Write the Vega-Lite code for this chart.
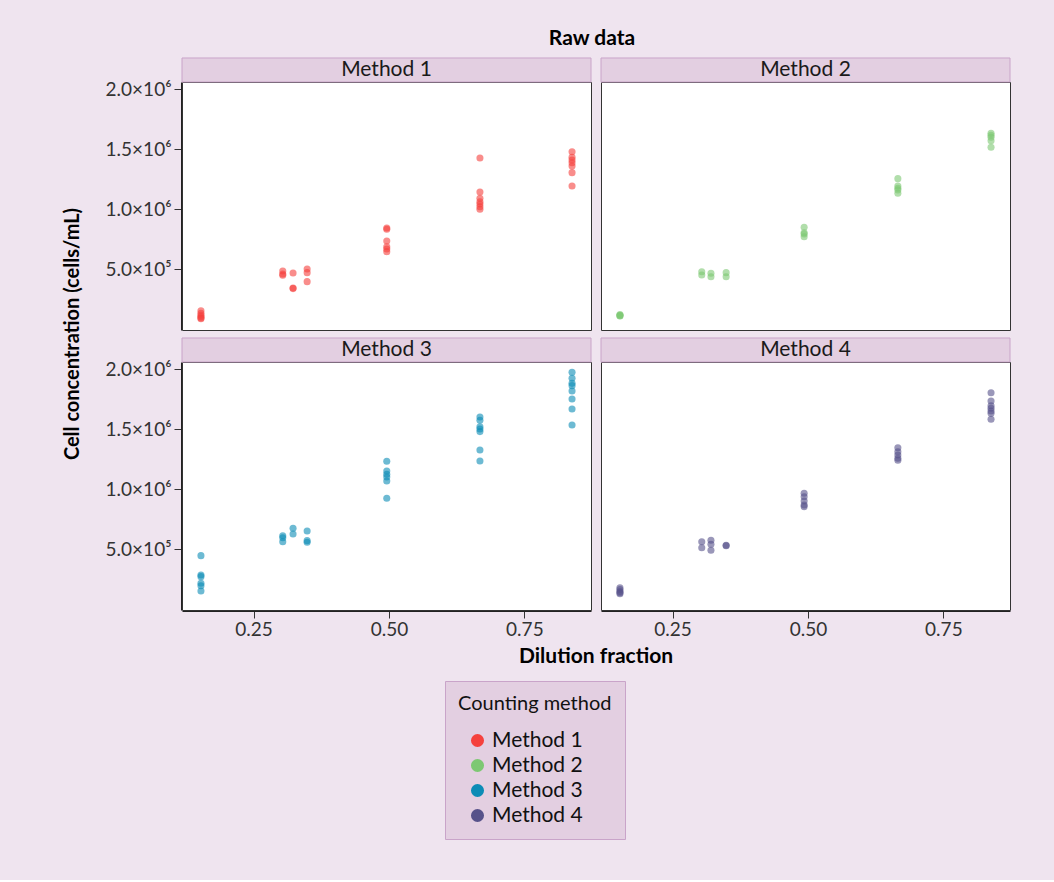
{
  "$schema": "https://vega.github.io/schema/vega-lite/v6.json",
  "background": "#EFE4EF",
  "padding": {"left": 62, "top": 27, "right": 44, "bottom": 40},
  "title": {"text": "Raw data", "font": "Lato", "fontSize": 21, "fontWeight": "bold", "color": "#000", "anchor": "middle", "offset": 8, "dx": 55},
  "data": {"values": [
    {"method": "Method 1", "dilution": 0.153, "conc": 156000},
    {"method": "Method 1", "dilution": 0.153, "conc": 134000},
    {"method": "Method 1", "dilution": 0.153, "conc": 118000},
    {"method": "Method 1", "dilution": 0.153, "conc": 106000},
    {"method": "Method 1", "dilution": 0.153, "conc": 95000},
    {"method": "Method 1", "dilution": 0.153, "conc": 90000},
    {"method": "Method 1", "dilution": 0.304, "conc": 487000},
    {"method": "Method 1", "dilution": 0.304, "conc": 462000},
    {"method": "Method 1", "dilution": 0.304, "conc": 451000},
    {"method": "Method 1", "dilution": 0.323, "conc": 470000},
    {"method": "Method 1", "dilution": 0.323, "conc": 345000},
    {"method": "Method 1", "dilution": 0.323, "conc": 340000},
    {"method": "Method 1", "dilution": 0.349, "conc": 504000},
    {"method": "Method 1", "dilution": 0.349, "conc": 473000},
    {"method": "Method 1", "dilution": 0.349, "conc": 398000},
    {"method": "Method 1", "dilution": 0.496, "conc": 845000},
    {"method": "Method 1", "dilution": 0.496, "conc": 835000},
    {"method": "Method 1", "dilution": 0.496, "conc": 737000},
    {"method": "Method 1", "dilution": 0.496, "conc": 689000},
    {"method": "Method 1", "dilution": 0.496, "conc": 670000},
    {"method": "Method 1", "dilution": 0.496, "conc": 648000},
    {"method": "Method 1", "dilution": 0.668, "conc": 1428000},
    {"method": "Method 1", "dilution": 0.668, "conc": 1145000},
    {"method": "Method 1", "dilution": 0.668, "conc": 1092000},
    {"method": "Method 1", "dilution": 0.668, "conc": 1064000},
    {"method": "Method 1", "dilution": 0.668, "conc": 1045000},
    {"method": "Method 1", "dilution": 0.668, "conc": 1022000},
    {"method": "Method 1", "dilution": 0.668, "conc": 1001000},
    {"method": "Method 1", "dilution": 0.838, "conc": 1480000},
    {"method": "Method 1", "dilution": 0.838, "conc": 1434000},
    {"method": "Method 1", "dilution": 0.838, "conc": 1411000},
    {"method": "Method 1", "dilution": 0.838, "conc": 1389000},
    {"method": "Method 1", "dilution": 0.838, "conc": 1361000},
    {"method": "Method 1", "dilution": 0.838, "conc": 1306000},
    {"method": "Method 1", "dilution": 0.838, "conc": 1195000},
    {"method": "Method 2", "dilution": 0.153, "conc": 125000},
    {"method": "Method 2", "dilution": 0.153, "conc": 118000},
    {"method": "Method 2", "dilution": 0.153, "conc": 112000},
    {"method": "Method 2", "dilution": 0.153, "conc": 115000},
    {"method": "Method 2", "dilution": 0.304, "conc": 481000},
    {"method": "Method 2", "dilution": 0.304, "conc": 453000},
    {"method": "Method 2", "dilution": 0.321, "conc": 468000},
    {"method": "Method 2", "dilution": 0.321, "conc": 439000},
    {"method": "Method 2", "dilution": 0.349, "conc": 473000},
    {"method": "Method 2", "dilution": 0.349, "conc": 439000},
    {"method": "Method 2", "dilution": 0.493, "conc": 851000},
    {"method": "Method 2", "dilution": 0.493, "conc": 806000},
    {"method": "Method 2", "dilution": 0.493, "conc": 795000},
    {"method": "Method 2", "dilution": 0.493, "conc": 772000},
    {"method": "Method 2", "dilution": 0.666, "conc": 1256000},
    {"method": "Method 2", "dilution": 0.666, "conc": 1195000},
    {"method": "Method 2", "dilution": 0.666, "conc": 1176000},
    {"method": "Method 2", "dilution": 0.666, "conc": 1161000},
    {"method": "Method 2", "dilution": 0.666, "conc": 1134000},
    {"method": "Method 2", "dilution": 0.838, "conc": 1633000},
    {"method": "Method 2", "dilution": 0.838, "conc": 1617000},
    {"method": "Method 2", "dilution": 0.838, "conc": 1600000},
    {"method": "Method 2", "dilution": 0.838, "conc": 1572000},
    {"method": "Method 2", "dilution": 0.838, "conc": 1517000},
    {"method": "Method 3", "dilution": 0.153, "conc": 448000},
    {"method": "Method 3", "dilution": 0.153, "conc": 287000},
    {"method": "Method 3", "dilution": 0.153, "conc": 273000},
    {"method": "Method 3", "dilution": 0.153, "conc": 218000},
    {"method": "Method 3", "dilution": 0.153, "conc": 198000},
    {"method": "Method 3", "dilution": 0.153, "conc": 154000},
    {"method": "Method 3", "dilution": 0.304, "conc": 614000},
    {"method": "Method 3", "dilution": 0.304, "conc": 597000},
    {"method": "Method 3", "dilution": 0.304, "conc": 564000},
    {"method": "Method 3", "dilution": 0.323, "conc": 676000},
    {"method": "Method 3", "dilution": 0.323, "conc": 628000},
    {"method": "Method 3", "dilution": 0.349, "conc": 653000},
    {"method": "Method 3", "dilution": 0.349, "conc": 573000},
    {"method": "Method 3", "dilution": 0.349, "conc": 559000},
    {"method": "Method 3", "dilution": 0.496, "conc": 1234000},
    {"method": "Method 3", "dilution": 0.496, "conc": 1153000},
    {"method": "Method 3", "dilution": 0.496, "conc": 1126000},
    {"method": "Method 3", "dilution": 0.496, "conc": 1103000},
    {"method": "Method 3", "dilution": 0.496, "conc": 1070000},
    {"method": "Method 3", "dilution": 0.496, "conc": 926000},
    {"method": "Method 3", "dilution": 0.668, "conc": 1603000},
    {"method": "Method 3", "dilution": 0.668, "conc": 1575000},
    {"method": "Method 3", "dilution": 0.668, "conc": 1522000},
    {"method": "Method 3", "dilution": 0.668, "conc": 1503000},
    {"method": "Method 3", "dilution": 0.668, "conc": 1481000},
    {"method": "Method 3", "dilution": 0.668, "conc": 1328000},
    {"method": "Method 3", "dilution": 0.668, "conc": 1236000},
    {"method": "Method 3", "dilution": 0.838, "conc": 1975000},
    {"method": "Method 3", "dilution": 0.838, "conc": 1925000},
    {"method": "Method 3", "dilution": 0.838, "conc": 1883000},
    {"method": "Method 3", "dilution": 0.838, "conc": 1864000},
    {"method": "Method 3", "dilution": 0.838, "conc": 1819000},
    {"method": "Method 3", "dilution": 0.838, "conc": 1753000},
    {"method": "Method 3", "dilution": 0.838, "conc": 1669000},
    {"method": "Method 3", "dilution": 0.838, "conc": 1536000},
    {"method": "Method 4", "dilution": 0.153, "conc": 180000},
    {"method": "Method 4", "dilution": 0.153, "conc": 165000},
    {"method": "Method 4", "dilution": 0.153, "conc": 150000},
    {"method": "Method 4", "dilution": 0.153, "conc": 140000},
    {"method": "Method 4", "dilution": 0.153, "conc": 130000},
    {"method": "Method 4", "dilution": 0.304, "conc": 564000},
    {"method": "Method 4", "dilution": 0.304, "conc": 514000},
    {"method": "Method 4", "dilution": 0.321, "conc": 576000},
    {"method": "Method 4", "dilution": 0.321, "conc": 543000},
    {"method": "Method 4", "dilution": 0.321, "conc": 493000},
    {"method": "Method 4", "dilution": 0.349, "conc": 534000},
    {"method": "Method 4", "dilution": 0.349, "conc": 530000},
    {"method": "Method 4", "dilution": 0.493, "conc": 967000},
    {"method": "Method 4", "dilution": 0.493, "conc": 939000},
    {"method": "Method 4", "dilution": 0.493, "conc": 903000},
    {"method": "Method 4", "dilution": 0.493, "conc": 870000},
    {"method": "Method 4", "dilution": 0.493, "conc": 856000},
    {"method": "Method 4", "dilution": 0.666, "conc": 1347000},
    {"method": "Method 4", "dilution": 0.666, "conc": 1314000},
    {"method": "Method 4", "dilution": 0.666, "conc": 1286000},
    {"method": "Method 4", "dilution": 0.666, "conc": 1259000},
    {"method": "Method 4", "dilution": 0.666, "conc": 1242000},
    {"method": "Method 4", "dilution": 0.838, "conc": 1805000},
    {"method": "Method 4", "dilution": 0.838, "conc": 1736000},
    {"method": "Method 4", "dilution": 0.838, "conc": 1697000},
    {"method": "Method 4", "dilution": 0.838, "conc": 1675000},
    {"method": "Method 4", "dilution": 0.838, "conc": 1653000},
    {"method": "Method 4", "dilution": 0.838, "conc": 1633000},
    {"method": "Method 4", "dilution": 0.838, "conc": 1584000}
  ]},
  "transform": [
    {"calculate": "datum.method == 'Method 1' || datum.method == 'Method 2' ? 'a' : 'b'", "as": "frow"},
    {"calculate": "datum.method == 'Method 1' || datum.method == 'Method 3' ? 'a' : 'b'", "as": "fcol"}
  ],
  "facet": {
    "row": {"field": "frow", "type": "nominal", "header": {"title": "Cell concentration (cells/mL)", "labels": false, "titleFont": "Lato", "titleFontSize": 20, "titleFontWeight": "bold", "titleColor": "#000", "titlePadding": 12}},
    "column": {"field": "fcol", "type": "nominal", "header": {"title": "Dilution fraction", "titleOrient": "bottom", "labels": false, "titleFont": "Lato", "titleFontSize": 21, "titleFontWeight": "bold", "titleColor": "#000", "titlePadding": -3}}
  },
  "spacing": {"row": 5, "column": 8},
  "spec": {
    "width": 409,
    "height": 248,
    "layer": [
      {
        "transform": [{"aggregate": [{"op": "count", "as": "n"}], "groupby": ["method"]}],
        "mark": {"type": "rect", "fill": "#E3CFE1", "stroke": "#C9A4C9", "strokeWidth": 1},
        "encoding": {
          "x": {"datum": 0.118, "type": "quantitative"},
          "x2": {"datum": 0.873},
          "y": {"datum": 2060800, "type": "quantitative"},
          "y2": {"datum": 2260700}
        }
      },
      {
        "transform": [{"aggregate": [{"op": "count", "as": "n"}], "groupby": ["method"]}],
        "mark": {"type": "text", "font": "Lato", "fontSize": 21, "color": "#1a1a1a", "baseline": "middle", "align": "center"},
        "encoding": {
          "x": {"datum": 0.4955, "type": "quantitative"},
          "y": {"datum": 2160750, "type": "quantitative"},
          "text": {"field": "method"}
        }
      },
      {
        "mark": {"type": "point", "filled": true, "size": 50, "fillOpacity": 0.6, "strokeOpacity": 0.8, "strokeWidth": 1.1},
        "encoding": {
          "x": {"field": "dilution", "type": "quantitative", "scale": {"domain": [0.118, 0.873], "nice": false, "zero": false},
                "axis": {"values": [0.25, 0.5, 0.75], "format": ".2f", "title": null, "labelPadding": 2}},
          "y": {"field": "conc", "type": "quantitative", "scale": {"domain": [-4700, 2060800], "nice": false, "zero": false},
                "axis": {"values": [500000, 1000000, 1500000, 2000000], "title": null, "labelPadding": 3,
                         "labelExpr": "datum.value == 2000000 ? '2.0×10⁶' : datum.value == 1500000 ? '1.5×10⁶' : datum.value == 1000000 ? '1.0×10⁶' : '5.0×10⁵'"}},
          "color": {"field": "method", "type": "nominal",
                    "scale": {"domain": ["Method 1", "Method 2", "Method 3", "Method 4"], "range": ["#F5413D", "#7DC873", "#0C8CB6", "#57528A"]},
                    "legend": {"title": "Counting method", "orient": "none", "legendX": 263, "legendY": 599}}
        }
      }
    ]
  },
  "config": {
    "font": "Lato",
    "view": {"stroke": "#333", "strokeWidth": 1, "fill": "white"},
    "axis": {"labelFont": "Lato", "labelFontSize": 19, "labelColor": "#333", "tickColor": "#333", "tickSize": 7, "domainColor": "#222", "grid": false},
    "legend": {"titleFont": "Lato", "titleFontSize": 20, "titleFontWeight": "normal", "titleColor": "#111", "labelFont": "Lato", "labelFontSize": 21, "labelColor": "#111",
               "symbolType": "circle", "symbolSize": 170, "symbolOpacity": 1, "symbolStrokeWidth": 0, "symbolOffset": 9, "labelOffset": 4, "rowPadding": 3, "titlePadding": 16,
               "fillColor": "#E3CFE1", "strokeColor": "#C9A4C9", "padding": 13}
  }
}
